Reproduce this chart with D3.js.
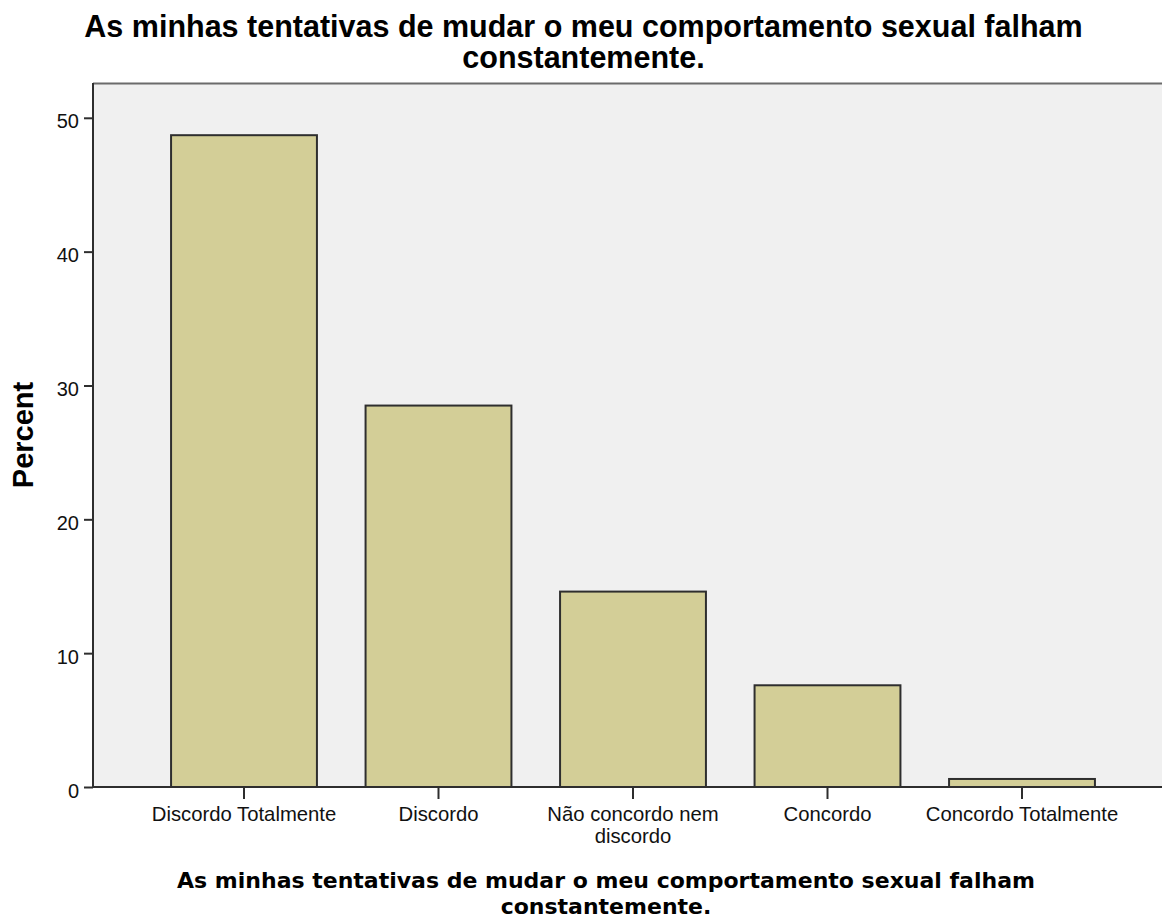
<!DOCTYPE html>
<html>
<head>
<meta charset="utf-8">
<script src="https://cdn.jsdelivr.net/npm/d3@7"></script>
<style>
  body { margin: 0; background: #ffffff; }
  svg { display: block; }
</style>
</head>
<body>
<div id="chart"></div>
<script>
// Data
const categories = ["Discordo Totalmente", "Discordo", "Não concordo nem discordo", "Concordo", "Concordo Totalmente"];
const percents = [48.7, 28.5, 14.6, 7.6, 0.6];
const yTicks = [0, 10, 20, 30, 40, 50];
const titleLines = ["As minhas tentativas de mudar o meu comportamento sexual falham", "constantemente."];
const xTitleLines = ["As minhas tentativas de mudar o meu comportamento sexual falham", "constantemente."];
const yTitle = "Percent";

class BarChart {
    constructor(parentElement) {
        this.parentElement = parentElement;
        this.initVis();
    }

    initVis() {
        const vis = this;

        vis.width = 1162;
        vis.height = 919;
        vis.margin = { top: 83, right: 0, bottom: 132, left: 93 };

        vis.svg = d3.select(`#${vis.parentElement}`)
            .append("svg")
            .attr("width", vis.width)
            .attr("height", vis.height);

        const plotBottom = vis.height - vis.margin.bottom;

        // Plot background
        vis.svg.append("rect")
            .attr("x", vis.margin.left)
            .attr("y", vis.margin.top)
            .attr("width", vis.width - vis.margin.left - vis.margin.right)
            .attr("height", plotBottom - vis.margin.top)
            .attr("fill", "#f0f0f0");

        // Top frame line
        vis.svg.append("line")
            .attr("x1", vis.margin.left).attr("x2", vis.width)
            .attr("y1", vis.margin.top + 0.5).attr("y2", vis.margin.top + 0.5)
            .attr("stroke", "#6b6b6b")
            .attr("stroke-width", 2);

        // Scales
        vis.x = d3.scaleBand()
            .domain(categories)
            .range([146.75, 1119.25])
            .paddingInner(0.25)
            .paddingOuter(0.125);

        vis.y = d3.scaleLinear()
            .domain([0, 52.6])
            .range([plotBottom, vis.margin.top]);

        // Bars
        vis.svg.append("g")
            .selectAll("rect")
            .data(categories)
            .join("rect")
            .attr("x", d => vis.x(d))
            .attr("y", (d, i) => vis.y(percents[i]))
            .attr("width", vis.x.bandwidth())
            .attr("height", (d, i) => vis.y(0) - vis.y(percents[i]))
            .attr("fill", "#d3ce97")
            .attr("stroke", "#2e2e2e")
            .attr("stroke-width", 2);

        // Y axis
        const yAxis = vis.svg.append("g")
            .attr("transform", `translate(${vis.margin.left},0)`)
            .call(d3.axisLeft(vis.y).tickValues(yTicks).tickSize(9).tickPadding(5).tickSizeOuter(0));
        yAxis.select(".domain").attr("stroke", "#2e2e2e").attr("stroke-width", 2)
            .attr("d", `M0,${vis.margin.top}V${plotBottom}`);
        yAxis.selectAll(".tick line").attr("stroke", "#2e2e2e").attr("stroke-width", 2);
        yAxis.selectAll(".tick text")
            .attr("font-family", "'Liberation Sans', Arial, sans-serif")
            .attr("font-size", 20)
            .attr("fill", "#111")
            .attr("dy", "0.5em");

        // X axis
        const xAxis = vis.svg.append("g")
            .attr("transform", `translate(0,${plotBottom})`)
            .call(d3.axisBottom(vis.x).tickSize(12).tickPadding(8).tickSizeOuter(0));
        xAxis.select(".domain").attr("stroke", "#2e2e2e").attr("stroke-width", 2)
            .attr("d", `M${vis.margin.left},0H${vis.width}`);
        xAxis.selectAll(".tick line").attr("stroke", "#2e2e2e").attr("stroke-width", 2);
        xAxis.selectAll(".tick text")
            .attr("font-family", "'Liberation Sans', Arial, sans-serif")
            .attr("font-size", 20.3)
            .attr("fill", "#111")
            .call(vis.wrap, vis.x.step());

        // Chart title
        vis.svg.append("text")
            .attr("x", 583.5)
            .attr("y", 37)
            .attr("text-anchor", "middle")
            .attr("font-family", "'Liberation Sans', Arial, sans-serif")
            .attr("font-weight", "bold")
            .attr("font-size", 30.5)
            .attr("fill", "#000")
            .selectAll("tspan")
            .data(titleLines)
            .join("tspan")
            .attr("x", 583.5)
            .attr("dy", (d, i) => i === 0 ? 0 : 31)
            .text(d => d);

        // X axis title
        vis.svg.append("text")
            .attr("x", 606)
            .attr("y", 888)
            .attr("text-anchor", "middle")
            .attr("font-family", "'DejaVu Sans', Verdana, sans-serif")
            .attr("font-weight", "bold")
            .attr("font-size", 22)
            .attr("fill", "#000")
            .selectAll("tspan")
            .data(xTitleLines)
            .join("tspan")
            .attr("x", 606)
            .attr("dy", (d, i) => i === 0 ? 0 : 26)
            .text(d => d);

        // Y axis title
        vis.svg.append("text")
            .attr("transform", `translate(33,${(vis.margin.top + plotBottom) / 2}) rotate(-90)`)
            .attr("text-anchor", "middle")
            .attr("font-family", "'Liberation Sans', Arial, sans-serif")
            .attr("font-weight", "bold")
            .attr("font-size", 29)
            .attr("fill", "#000")
            .text(yTitle);
    }

    // Wrap long tick labels over several lines
    wrap(texts, width) {
        texts.each(function () {
            const text = d3.select(this);
            const words = text.text().split(/\s+/);
            const y = text.attr("y");
            const dy = parseFloat(text.attr("dy"));
            text.text(null);
            let line = [];
            let lineNumber = 0;
            let tspan = text.append("tspan").attr("x", 0).attr("y", y).attr("dy", dy + "em");
            words.forEach(word => {
                line.push(word);
                tspan.text(line.join(" "));
                if (tspan.node().getComputedTextLength() > width && line.length > 1) {
                    line.pop();
                    tspan.text(line.join(" "));
                    line = [word];
                    lineNumber++;
                    tspan = text.append("tspan")
                        .attr("x", 0).attr("y", y)
                        .attr("dy", (lineNumber * 1.08 + dy) + "em")
                        .text(word);
                }
            });
        });
    }
}

new BarChart("chart");
</script>
</body>
</html>
